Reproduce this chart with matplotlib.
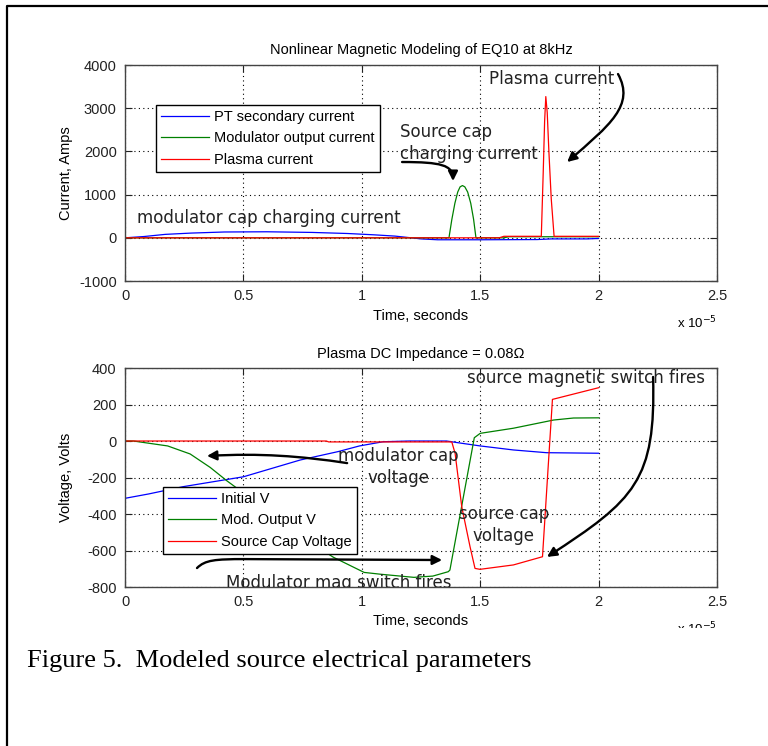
import matplotlib
matplotlib.use('Agg')
import matplotlib.pyplot as plt
from matplotlib.path import Path
from matplotlib.patches import FancyArrowPatch, Rectangle
from matplotlib.lines import Line2D

# Dados (tempo em unidades de 1e-5 s) ###############################################################

# Grafico de cima: correntes
t_pt = [0, 0.08, 0.17, 0.28, 0.42, 0.6, 0.79, 0.94, 1.05, 1.14, 1.2, 1.25, 1.32, 1.5, 1.74, 1.8, 1.95, 2.0]
i_pt = [0, 30, 80, 110, 135, 140, 125, 100, 70, 40, 5, -25, -45, -45, -40, -25, -25, -15]

t_mod = [0, 1.368, 1.38, 1.393, 1.405, 1.415, 1.425, 1.435, 1.447, 1.46, 1.472, 1.482, 1.6, 1.62, 2.0]
i_mod = [0, 0, 420, 800, 1060, 1180, 1210, 1180, 1060, 800, 430, 0, 0, 25, 25]

t_plasma = [0, 1.58, 1.6, 1.758, 1.766, 1.772, 1.777, 1.783, 1.79, 1.8, 1.812, 2.0]
i_plasma = [0, 0, 35, 35, 1500, 2700, 3270, 2900, 2000, 900, 35, 35]

# Grafico de baixo: tensoes
t_ini = [0, 0.1, 0.246, 0.5, 0.74, 0.9, 0.99, 1.09, 1.2, 1.358, 1.42, 1.5, 1.64, 1.78, 2.0]
v_ini = [-314, -290, -250, -196, -104, -58, -27, -4, 0, 0, -12, -27, -49, -64, -67]

t_out = [0, 0.035, 0.18, 0.275, 0.36, 0.43, 0.47, 0.55, 0.65, 0.75, 0.88, 1.01, 1.08, 1.22, 1.3,
         1.365, 1.372, 1.475, 1.5, 1.64, 1.81, 1.894, 2.0]
v_out = [0, 0, -27, -71, -145, -218, -256, -335, -432, -528, -637, -720, -730, -747, -740,
         -716, -707, 18, 42, 70, 115, 126, 127]

t_src = [0, 0.85, 0.86, 1.38, 1.394, 1.422, 1.457, 1.478, 1.499, 1.64, 1.763, 1.805, 2.0]
v_src = [0, 0, -5, -5, -68, -360, -579, -698, -703, -679, -634, 228, 292]

x_ticks = [0, 0.5, 1, 1.5, 2, 2.5]
x_labels = ['0', '0.5', '1', '1.5', '2', '2.5']
y1_ticks = [-1000, 0, 1000, 2000, 3000, 4000]
y2_ticks = [-800, -600, -400, -200, 0, 200, 400]

# Estilo ###############################################################################

fonte = 'Liberation Sans'
fonte_nota = 'DejaVu Sans'
tam = 10.5
tam_nota = 12


def formatar_eixo(ax, yticks, ylim):
    ax.set_xlim(0, 2.5)
    ax.set_ylim(*ylim)
    ax.set_xticks(x_ticks)
    ax.set_xticklabels(x_labels, fontfamily=fonte, fontsize=tam)
    ax.set_yticks(yticks)
    ax.set_yticklabels([str(v) for v in yticks], fontfamily=fonte, fontsize=tam)
    ax.tick_params(direction='in', top=True, right=True, length=5, width=0.8,
                   colors='#222222', pad=6)
    ax.grid(True, color='black', linestyle=(0, (1, 3)), linewidth=0.8)
    for s in ax.spines.values():
        s.set_color('#444444')
        s.set_linewidth(1.0)


def seta(ax, pontos, codigos=None):
    # desenha seta curva (bezier) em coordenadas de dados
    if codigos is None:
        codigos = [Path.MOVETO] + [Path.CURVE4] * (len(pontos) - 1)
    p = FancyArrowPatch(path=Path(pontos, codigos), arrowstyle='-|>', mutation_scale=14,
                        lw=1.7, color='black', clip_on=False, zorder=6)
    ax.add_patch(p)


def legenda(ax, ancora):
    leg = ax.legend(loc='upper left', bbox_to_anchor=ancora, borderaxespad=0,
                    fancybox=False, edgecolor='black', framealpha=1, handlelength=3.3,
                    handletextpad=0.35, labelspacing=0.5, borderpad=0.35,
                    prop={'family': fonte, 'size': tam})
    leg.get_frame().set_linewidth(1.0)
    leg.set_zorder(5)


fig = plt.figure(figsize=(7.68, 7.46), dpi=100)

# Grafico de cima ###############################################################################
ax1 = fig.add_axes([0.1628, 0.6233, 0.7708, 0.2895])
ax1.plot(t_pt, i_pt, color='#0000ff', lw=0.9, label='PT secondary current')
ax1.plot(t_mod, i_mod, color='#008000', lw=0.9, label='Modulator output current')
ax1.plot(t_plasma, i_plasma, color='#ff0000', lw=0.9, label='Plasma current')
formatar_eixo(ax1, y1_ticks, (-1000, 4000))
ax1.set_title('Nonlinear Magnetic Modeling of EQ10 at 8kHz', fontfamily=fonte, fontsize=tam, pad=8)
ax1.set_ylabel('Current, Amps', fontfamily=fonte, fontsize=tam)
ax1.yaxis.set_label_coords(-0.088, 0.5)
ax1.set_xlabel('Time, seconds', fontfamily=fonte, fontsize=tam)
ax1.xaxis.set_label_coords(0.5, -0.13)
ax1.text(1.0, -0.195, r'x 10$^{-5}$', transform=ax1.transAxes, ha='right', va='center',
         fontfamily=fonte, fontsize=tam - 1)
legenda(ax1, (0.052, 0.815))

ax1.text(1.537, 3676, 'Plasma current', fontfamily=fonte_nota, fontsize=tam_nota, va='center', color='#222222')
seta(ax1, [(2.082, 3792), (2.154, 3074), (2.048, 2611), (1.867, 1755)])
ax1.text(1.161, 2192, 'Source cap\ncharging current', fontfamily=fonte_nota, fontsize=tam_nota,
         va='center', linespacing=1.25, color='#222222')
seta(ax1, [(1.170, 1755), (1.334, 1755), (1.385, 1685), (1.385, 1315)])
ax1.text(0.051, 458, 'modulator cap charging current', fontfamily=fonte_nota, fontsize=tam_nota,
         va='center', color='#222222')

# Grafico de baixo ###############################################################################
ax2 = fig.add_axes([0.1628, 0.2131, 0.7708, 0.2936])
ax2.plot(t_ini, v_ini, color='#0000ff', lw=0.9, label='Initial V')
ax2.plot(t_out, v_out, color='#008000', lw=0.9, label='Mod. Output V')
ax2.plot(t_src, v_src, color='#ff0000', lw=0.9, label='Source Cap Voltage')
formatar_eixo(ax2, y2_ticks, (-800, 400))
ax2.set_title('Plasma DC Impedance = 0.08Ω', fontfamily=fonte, fontsize=tam, pad=7)
ax2.set_ylabel('Voltage, Volts', fontfamily=fonte, fontsize=tam)
ax2.yaxis.set_label_coords(-0.088, 0.5)
ax2.set_xlabel('Time, seconds', fontfamily=fonte, fontsize=tam)
ax2.xaxis.set_label_coords(0.5, -0.123)
ax2.text(1.0, -0.19, r'x 10$^{-5}$', transform=ax2.transAxes, ha='right', va='center',
         fontfamily=fonte, fontsize=tam - 1)
legenda(ax2, (0.064, 0.457))

ax2.text(1.444, 345, 'source magnetic switch fires', fontfamily=fonte_nota, fontsize=tam_nota,
         va='center', color='#222222')
seta(ax2, [(2.230, 351), (2.242, -214), (2.154, -323), (1.782, -635)])
ax2.text(1.153, -142, 'modulator cap\nvoltage', fontfamily=fonte_nota, fontsize=tam_nota,
         ha='center', va='center', linespacing=1.25, color='#222222')
seta(ax2, [(0.938, -121), (0.739, -82), (0.570, -66), (0.346, -82)])
ax2.text(1.600, -460, 'source cap\nvoltage', fontfamily=fonte_nota, fontsize=tam_nota,
         ha='center', va='center', linespacing=1.25, color='#222222')
ax2.text(0.427, -778, 'Modulator mag switch fires', fontfamily=fonte_nota, fontsize=tam_nota,
         va='center', color='#222222', clip_on=True)
seta(ax2, [(0.304, -696), (0.338, -652), (0.380, -647), (0.507, -647), (1.339, -652)],
     [Path.MOVETO, Path.CURVE4, Path.CURVE4, Path.CURVE4, Path.LINETO])

# Moldura e legenda da figura ###############################################################################
fig.patches.append(Rectangle((8 / 768, 0), 1, (746 - 628) / 746, transform=fig.transFigure,
                             facecolor='white', edgecolor='none', zorder=5))
fig.lines.append(Line2D([7 / 768, 7 / 768, 1], [0, 1 - 6 / 746, 1 - 6 / 746], transform=fig.transFigure,
                        color='black', lw=1.6, zorder=7))
fig.text(27 / 768, 1 - 667 / 746, 'Figure 5.  Modeled source electrical parameters',
         fontfamily='Liberation Serif', fontsize=19, va='baseline', zorder=8)

fig.savefig('out.png', dpi=100)
